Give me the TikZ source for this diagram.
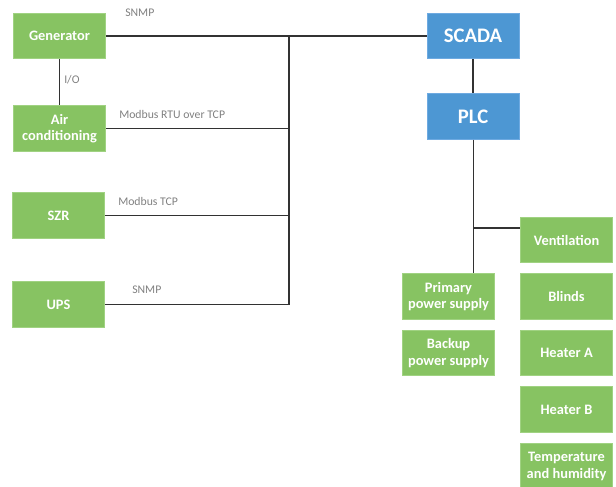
\documentclass[tikz,border=0pt]{standalone}
\usepackage{fontspec}
\setmainfont{Carlito}
\definecolor{boxgreen}{RGB}{135,195,98}
\definecolor{boxgreenedge}{RGB}{160,210,130}
\definecolor{boxblue}{RGB}{77,151,211}
\definecolor{boxblueedge}{RGB}{110,170,225}
\definecolor{wire}{RGB}{50,50,50}
\definecolor{proto}{RGB}{128,128,128}
\tikzset{
  gbox/.style={fill=boxgreen, draw=boxgreenedge, line width=0.6pt, text=white,
    font=\bfseries\fontsize{10.8}{12.5}\selectfont, align=center, inner sep=0pt,
    minimum width=69pt, minimum height=34pt},
  bbox/.style={fill=boxblue, draw=boxblueedge, line width=0.6pt, text=white,
    font=\bfseries\fontsize{15.5}{18}\selectfont, align=center, inner sep=0pt,
    minimum width=69pt, minimum height=34pt},
  wireline/.style={draw=wire, line width=0.8pt},
  protolabel/.style={text=proto, font=\fontsize{8.8}{10}\selectfont, inner sep=0pt, anchor=west}
}
\begin{document}
\begin{tikzpicture}[x=0.75pt,y=-0.75pt]
\useasboundingbox (0,0) rectangle (616,486);
% field devices
\node[gbox] (gen) at (59.5,36) {Generator};
\node[gbox] (ac) at (59.5,128.5) {Air\\conditioning};
\node[gbox] (szr) at (58.5,215.5) {SZR};
\node[gbox] (ups) at (58.5,304.5) {UPS};
% control level
\node[bbox] (scada) at (473,36) {SCADA};
\node[bbox] (plc) at (473,116.5) {PLC};
% power supplies
\node[gbox] (pps) at (448.5,296.5) {Primary\\power supply};
\node[gbox] (bps) at (448.5,353) {Backup\\power supply};
% PLC outputs
\node[gbox] (vent) at (566.5,240) {Ventilation};
\node[gbox] (blinds) at (566.5,296.5) {Blinds};
\node[gbox] (heata) at (566.5,353) {Heater A};
\node[gbox] (heatb) at (566.5,409.5) {Heater B};
\node[gbox] (temp) at (566.5,466.5) {Temperature\\and humidity};
% bus junctions
\coordinate (busTop) at (289,36);
\coordinate (busBot) at (289,304.5);
\coordinate (tap) at (473.5,228);
% connectors
\draw[wireline] (gen.east) -- (scada.west);
\draw[wireline] (busTop) -- (busBot) -- (ups.east);
\draw[wireline] (ac.east) -- (ac.east -| busTop);
\draw[wireline] (szr.east) -- (szr.east -| busTop);
\draw[wireline] (gen.south) -- (gen.south |- ac.north);
\draw[wireline] (scada.south) -- (plc.north);
\draw[wireline] (plc.south -| tap) -- (pps.north -| tap);
\draw[wireline] (tap) -- (tap -| vent.west);
% protocol labels
\node[protolabel] (l1) at (125,13) {SNMP};
\node[protolabel] (l2) at (64,80) {I/O};
\node[protolabel] (l3) at (119,114.5) {Modbus RTU over TCP};
\node[protolabel] (l4) at (118,201) {Modbus TCP};
\node[protolabel] (l5) at (132,290) {SNMP};
\end{tikzpicture}
\end{document}
